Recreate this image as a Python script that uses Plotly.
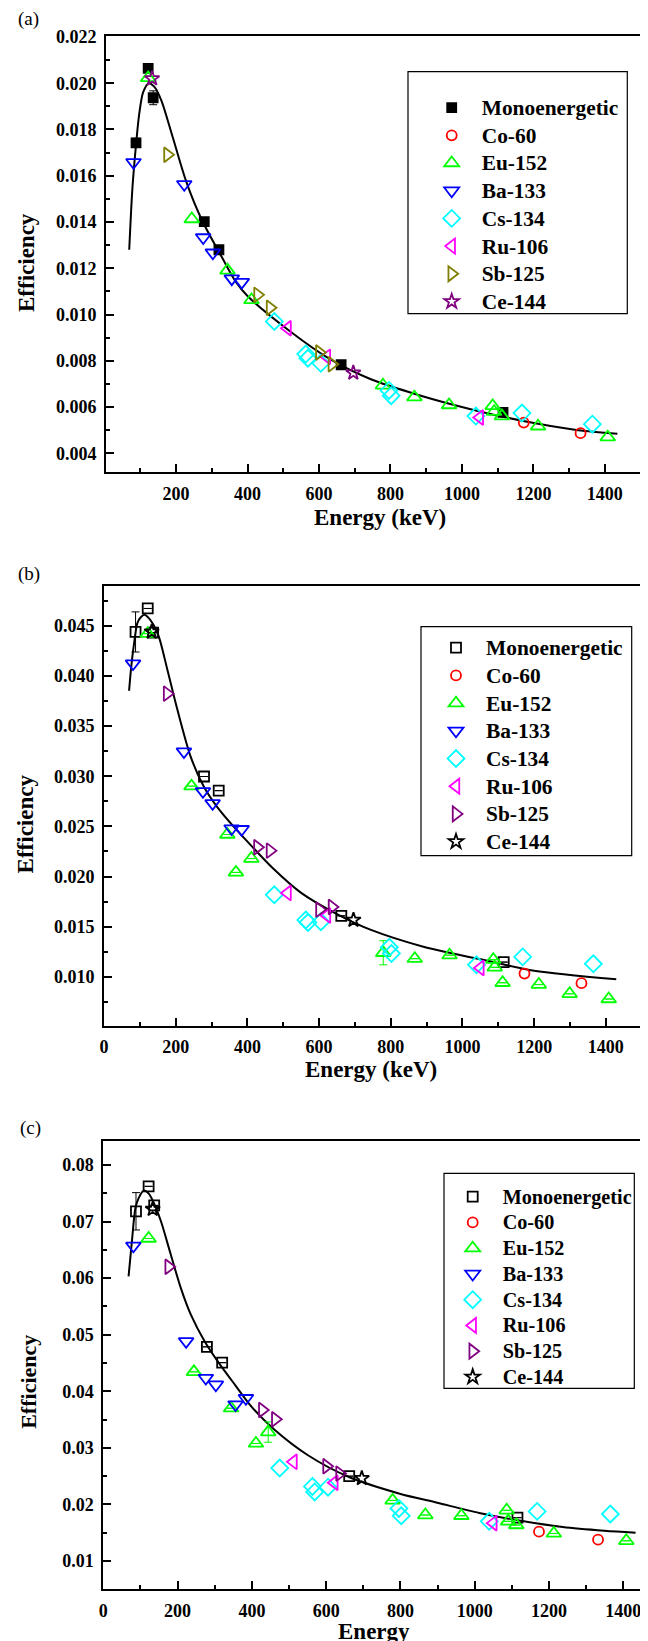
import plotly.graph_objects as go

W, H = 648, 1641
OFF = 8  # default page (body) margin of the browser
FONT = "Liberation Serif"

SOURCES = ["Monoenergetic", "Co-60", "Eu-152", "Ba-133", "Cs-134", "Ru-106", "Sb-125", "Ce-144"]

# ---------------- Panel (a) data ----------------
a_mono_E = [88, 122, 136, 279, 320, 662, 1115]
a_mono_eff = [0.01742, 0.02064, 0.01937, 0.01402, 0.0128, 0.00783, 0.00577]
a_mono_err = [0.0002, 0.0001, 0.0003, 0.0001, 0.0001, 0.0001, 0.0001]
a_co60_E = [1173, 1332]
a_co60_eff = [0.00533, 0.00487]
a_eu152_E = [122, 244, 344, 411, 779, 867, 964, 1086, 1090, 1112, 1213, 1408]
a_eu152_eff = [0.02023, 0.01413, 0.01191, 0.01063, 0.00694, 0.00643, 0.00609, 0.00605, 0.0058, 0.00561, 0.00517, 0.0047]
a_ba133_E = [81, 223, 276, 303, 356, 384]
a_ba133_eff = [0.01658, 0.01563, 0.01333, 0.01267, 0.01155, 0.0114]
a_cs134_E = [475, 563, 569, 605, 796, 802, 1039, 1168, 1365]
a_cs134_eff = [0.0097, 0.00829, 0.00811, 0.00789, 0.00672, 0.00649, 0.00561, 0.00574, 0.00526]
a_ru106_E = [512, 622, 1050]
a_ru106_eff = [0.00941, 0.00817, 0.00555]
a_sb125_E = [176, 428, 463, 601, 636]
a_sb125_eff = [0.01691, 0.01085, 0.01029, 0.00836, 0.00785]
a_ce144_E = [133, 696]
a_ce144_eff = [0.0202, 0.00748]
a_fit_E = [69, 78, 89, 97, 108, 124, 140, 159, 191, 228, 274, 330, 367, 400, 516, 631, 747, 862, 978, 1094, 1209, 1325, 1435]
a_fit_eff = [0.0128, 0.01548, 0.01751, 0.01867, 0.01961, 0.0200, 0.01983, 0.01925, 0.01765, 0.01577,
             0.01403, 0.01243, 0.01142, 0.0108, 0.00931, 0.00807, 0.00719, 0.0066, 0.00609, 0.00565,
             0.00529, 0.005, 0.00485]

# ---------------- Panel (b) data ----------------
b_mono_E = [88, 122, 137, 279, 320, 662, 1115]
b_mono_eff = [0.04438, 0.04672, 0.04431, 0.02997, 0.02856, 0.01608, 0.01147]
b_mono_err = [0.002, 0, 0, 0, 0, 0, 0]
b_co60_E = [1173, 1332]
b_co60_eff = [0.01033, 0.00937]
b_eu152_E = [122, 244, 344, 368, 411, 779, 867, 964, 1086, 1090, 1112, 1213, 1299, 1408]
b_eu152_eff = [0.04421, 0.02901, 0.02419, 0.02041, 0.02179, 0.0124, 0.01181, 0.01216, 0.01171, 0.01095,
               0.00941, 0.00923, 0.00831, 0.00779]
b_eu152_err = [0, 0, 0, 0, 0, 0.0012, 0, 0, 0, 0, 0, 0, 0, 0]
b_ba133_E = [81, 223, 276, 303, 356, 384]
b_ba133_eff = [0.04122, 0.03245, 0.02849, 0.02729, 0.02478, 0.02471]
b_cs134_E = [475, 563, 569, 605, 796, 802, 1039, 1168, 1365]
b_cs134_eff = [0.01818, 0.01567, 0.01542, 0.01549, 0.01295, 0.01233, 0.0112, 0.01199, 0.0113]
b_ru106_E = [512, 622, 1050]
b_ru106_eff = [0.01835, 0.01611, 0.01089]
b_sb125_E = [176, 428, 463, 601, 636]
b_sb125_eff = [0.03823, 0.02292, 0.02258, 0.0167, 0.01697]
b_ce144_E = [133, 696]
b_ce144_eff = [0.0444, 0.01567]
b_fit_E = [70, 76, 84, 93, 102, 113, 125, 138, 153, 177, 205, 242, 279, 316, 363, 418, 469, 549, 658, 743,
           891, 1086, 1200, 1429]
b_fit_eff = [0.03852, 0.04092, 0.04326, 0.04526, 0.04582, 0.04609, 0.04576, 0.04509, 0.04392, 0.04059,
             0.03659, 0.03192, 0.02892, 0.02692, 0.02492, 0.0228, 0.0209, 0.0184, 0.0161, 0.0147,
             0.0130, 0.01147, 0.01061, 0.00975]

# ---------------- Panel (c) data ----------------
c_mono_E = [88, 122, 137, 279, 320, 662, 1115]
c_mono_eff = [0.07182, 0.07623, 0.07286, 0.04786, 0.04506, 0.025, 0.01766]
c_mono_err = [0.0033, 0, 0, 0, 0, 0, 0]
c_co60_E = [1173, 1332]
c_co60_eff = [0.01519, 0.01377]
c_eu152_E = [122, 244, 344, 411, 444, 779, 867, 964, 1086, 1090, 1112, 1213, 1408]
c_eu152_eff = [0.06701, 0.04344, 0.03701, 0.03078, 0.03279, 0.02071, 0.01812, 0.018, 0.01896, 0.01701,
               0.01636, 0.01487, 0.01357]
c_eu152_err = [0, 0, 0, 0, 0.0018, 0, 0, 0, 0, 0, 0, 0, 0]
c_ba133_E = [81, 223, 276, 303, 356, 384]
c_ba133_eff = [0.06571, 0.04883, 0.04234, 0.04117, 0.03766, 0.03877]
c_cs134_E = [475, 563, 569, 605, 796, 802, 1039, 1168, 1365]
c_cs134_eff = [0.02643, 0.02318, 0.02221, 0.02305, 0.01929, 0.01799, 0.01701, 0.01877, 0.01831]
c_ru106_E = [512, 622, 1050]
c_ru106_eff = [0.02753, 0.02383, 0.01669]
c_sb125_E = [176, 428, 463, 601, 636]
c_sb125_eff = [0.06201, 0.03669, 0.03506, 0.02675, 0.02545]
c_ce144_E = [133, 696]
c_ce144_eff = [0.0722, 0.02461]
c_fit_E = [68, 77, 86.5, 95.5, 109, 123, 136, 155, 182, 209, 236, 273, 309, 355, 400, 461, 551, 663, 798,
           899, 1012, 1124, 1237, 1349, 1433]
c_fit_eff = [0.0603, 0.0665, 0.0724, 0.0742, 0.0755, 0.0749, 0.0733, 0.0701, 0.0641, 0.0582, 0.0535,
             0.0488, 0.0452, 0.0411, 0.0372, 0.0332, 0.0287, 0.0248, 0.0219, 0.0203, 0.0185, 0.0171,
             0.0160, 0.01535, 0.0150]


def px(x):
    return (x - OFF) / W


def py(y):
    return 1 - (y - OFF) / H


fig = go.Figure()

STYLE = {
    "a": [("square", "black", 9), ("circle-open", "#FF0000", 10), ("triangle-up-open", "#00FF00", 13),
          ("triangle-down-open", "#0000FF", 13), ("diamond-open", "#00FFFF", 13),
          ("triangle-left-open", "#FF00FF", 13), ("triangle-right-open", "#808000", 13),
          ("star-open", "#800080", 11)],
    "b": [("square-open", "black", 10), ("circle-open", "#FF0000", 10), ("triangle-up-open", "#00FF00", 13),
          ("triangle-down-open", "#0000FF", 13), ("diamond-open", "#00FFFF", 13),
          ("triangle-left-open", "#FF00FF", 13), ("triangle-right-open", "#800080", 13),
          ("star-open", "black", 11)],
}
STYLE["c"] = STYLE["b"]

PANELS = {
    "a": dict(xa="x", ya="y", leg="legend", tsize=21.4,
              series=[(a_mono_E, a_mono_eff, a_mono_err), (a_co60_E, a_co60_eff, None),
                      (a_eu152_E, a_eu152_eff, None), (a_ba133_E, a_ba133_eff, None),
                      (a_cs134_E, a_cs134_eff, None), (a_ru106_E, a_ru106_eff, None),
                      (a_sb125_E, a_sb125_eff, None), (a_ce144_E, a_ce144_eff, None)],
              fit=(a_fit_E, a_fit_eff)),
    "b": dict(xa="x2", ya="y2", leg="legend2", tsize=21.4,
              series=[(b_mono_E, b_mono_eff, b_mono_err), (b_co60_E, b_co60_eff, None),
                      (b_eu152_E, b_eu152_eff, b_eu152_err), (b_ba133_E, b_ba133_eff, None),
                      (b_cs134_E, b_cs134_eff, None), (b_ru106_E, b_ru106_eff, None),
                      (b_sb125_E, b_sb125_eff, None), (b_ce144_E, b_ce144_eff, None)],
              fit=(b_fit_E, b_fit_eff)),
    "c": dict(xa="x3", ya="y3", leg="legend3", tsize=20.2,
              series=[(c_mono_E, c_mono_eff, c_mono_err), (c_co60_E, c_co60_eff, None),
                      (c_eu152_E, c_eu152_eff, c_eu152_err), (c_ba133_E, c_ba133_eff, None),
                      (c_cs134_E, c_cs134_eff, None), (c_ru106_E, c_ru106_eff, None),
                      (c_sb125_E, c_sb125_eff, None), (c_ce144_E, c_ce144_eff, None)],
              fit=(c_fit_E, c_fit_eff)),
}

for key, p in PANELS.items():
    fE, fV = p["fit"]
    fig.add_trace(go.Scatter(x=fE, y=fV, mode="lines", xaxis=p["xa"], yaxis=p["ya"],
                             line=dict(color="black", width=2, shape="spline", smoothing=0.8),
                             showlegend=False, hoverinfo="skip"))
    for name, (E, V, err), (sym, col, size) in zip(SOURCES, p["series"], STYLE[key]):
        ey = None
        if err is not None:
            ey = dict(type="data", array=err, visible=True, color=col, thickness=1, width=4)
        label = '<span style="font-size:%spx">%s</span>' % (p["tsize"], name)
        fig.add_trace(go.Scatter(
            x=E, y=V, mode="markers", name=label, xaxis=p["xa"], yaxis=p["ya"], legend=p["leg"],
            marker=dict(symbol=sym, size=size, color=col, line=dict(color=col, width=1.8)),
            error_y=ey))

tickfont = dict(family=FONT, size=18, color="black", weight="bold")


def xaxis(domain, rng, anchor):
    return dict(domain=domain, range=rng, anchor=anchor, showline=True, linecolor="black", linewidth=2,
                mirror=True, ticks="inside", ticklen=8, tickwidth=2, tickcolor="black", tick0=0, dtick=200,
                showgrid=False, zeroline=False, tickfont=tickfont, ticklabelstandoff=4,
                minor=dict(ticks="inside", ticklen=4, tickwidth=2, tickcolor="black", dtick=100, tick0=0))


def yaxis(domain, rng, anchor, dtick, mdtick, fmt, mirror=True):
    return dict(domain=domain, range=rng, anchor=anchor, showline=True, linecolor="black", linewidth=2,
                mirror=mirror, ticks="inside", ticklen=8, tickwidth=2, tickcolor="black", tick0=0,
                dtick=dtick, tickformat=fmt, showgrid=False, zeroline=False, tickfont=tickfont,
                ticklabelstandoff=4,
                minor=dict(ticks="inside", ticklen=4, tickwidth=2, tickcolor="black", dtick=mdtick, tick0=0))


legfont_ab = dict(family=FONT, size=19, color="black", weight="bold")
legfont_c = dict(family=FONT, size=17.5, color="black", weight="bold")


def legend(x, y, font):
    return dict(x=px(x), y=py(y), xanchor="left", yanchor="top", bgcolor="rgba(0,0,0,0)",
                borderwidth=0, font=font, itemwidth=50, tracegroupgap=0)


fig.update_layout(
    width=W, height=H, margin=dict(l=0, r=0, t=0, b=0, autoexpand=False),
    paper_bgcolor="white", plot_bgcolor="white",
    font=dict(family=FONT, color="black"),
    xaxis=xaxis([px(106), px(640.6)], [4, 1500], "y"),
    yaxis=yaxis([py(472.3), py(36)], [0.00318, 0.02204], "x", 0.002, 0.001, ".3f"),
    xaxis2=xaxis([px(104), px(641.7)], [0, 1500], "y2"),
    yaxis2=yaxis([py(1025.7), py(586)], [0.00513, 0.04896], "x2", 0.005, 0.0025, ".3f"),
    xaxis3=xaxis([px(103.3), px(648 + OFF)], [0, 1488], "y3"),
    yaxis3=yaxis([py(1589), py(1140.7)], [0.00505, 0.0843], "x3", 0.01, 0.005, ".2f", mirror=False),
    legend=legend(421.7, 88.75, legfont_ab),
    legend2=legend(426, 628.85, legfont_ab),
    legend3=legend(442.7, 1178.8, legfont_c),
)

# legend boxes
for (x0, x1, y0, y1) in [(408, 627.3, 71.7, 313.7), (421, 631.7, 626.7, 855.7), (444, 634.3, 1173.3, 1388.3)]:
    fig.add_shape(type="rect", xref="paper", yref="paper", x0=px(x0), x1=px(x1), y0=py(y1), y1=py(y0),
                  line=dict(color="black", width=1.2), fillcolor="rgba(0,0,0,0)", layer="above")

titlefont = dict(family=FONT, size=23, color="black", weight="bold")
labfont = dict(family=FONT, size=19, color="black")
ann = [
    ("(a)", 28, 19.5, labfont, 0), ("(b)", 28.7, 574, labfont, 0), ("(c)", 30, 1127.5, labfont, 0),
    ("Efficiency", 27, 263, titlefont, -90), ("Efficiency", 26.4, 824, titlefont, -90),
    ("Efficiency", 27.8, 1382, dict(titlefont, size=22), -90),
    ("Energy (keV)", 379.5, 518, titlefont, 0), ("Energy (keV)", 370.5, 1069, titlefont, 0),
    ("Energy", 374, 1631, titlefont, 0),
]
for text, x, y, f, ang in ann:
    fig.add_annotation(text=text, x=px(x), y=py(y), xref="paper", yref="paper", showarrow=False,
                       xanchor="center", yanchor="middle", font=f, textangle=ang)

fig.write_html("out.html")
